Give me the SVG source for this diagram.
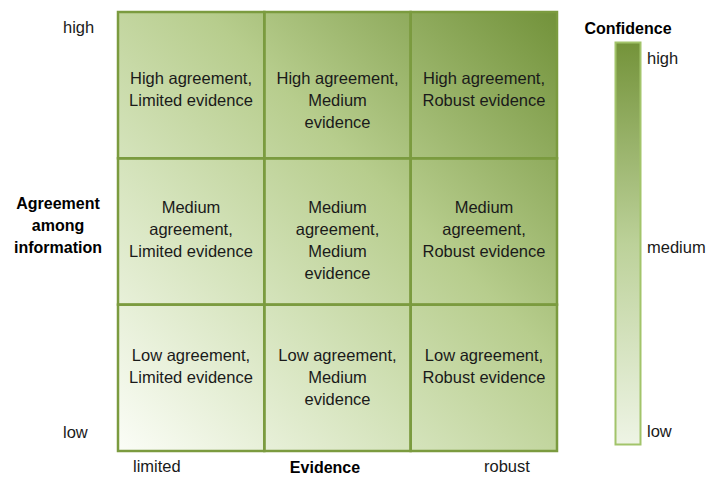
<svg xmlns="http://www.w3.org/2000/svg" width="709" height="479" viewBox="0 0 709 479">
<defs>
<linearGradient id="grid" gradientUnits="userSpaceOnUse" x1="118" y1="451" x2="557" y2="12">
<stop offset="0" stop-color="#fbfdf7"/>
<stop offset="0.35" stop-color="#d3e2b9"/>
<stop offset="0.6" stop-color="#b7cd8d"/>
<stop offset="1" stop-color="#72923a"/>
</linearGradient>
<linearGradient id="bar" x1="0" y1="0" x2="0" y2="1">
<stop offset="0" stop-color="#74933a"/>
<stop offset="0.5" stop-color="#bcd199"/>
<stop offset="1" stop-color="#eef4e5"/>
</linearGradient>
</defs>
<style>
.cell{fill:none;stroke:#7b9b3f;stroke-width:2.5}
text{font-family:"Liberation Sans",Arial,sans-serif;font-size:16.5px;fill:#1a1a1a}
.c{text-anchor:middle}
.b{font-weight:bold;font-size:16px;fill:#000}
</style>
<rect x="118" y="12" width="439" height="439" fill="url(#grid)"/>
<g id="cell-high-limited"><rect class="cell" x="118" y="12" width="146.3" height="146.3"/>
<text class="c" x="191" y="84">High agreement,</text><text class="c" x="191" y="106">Limited evidence</text></g>
<g id="cell-high-medium"><rect class="cell" x="264.3" y="12" width="146.3" height="146.3"/>
<text class="c" x="337.5" y="84">High agreement,</text><text class="c" x="337.5" y="106">Medium</text><text class="c" x="337.5" y="128">evidence</text></g>
<g id="cell-high-robust"><rect class="cell" x="410.7" y="12" width="146.3" height="146.3"/>
<text class="c" x="484" y="84">High agreement,</text><text class="c" x="484" y="106">Robust evidence</text></g>
<g id="cell-medium-limited"><rect class="cell" x="118" y="158.3" width="146.3" height="146.3"/>
<text class="c" x="191" y="213">Medium</text><text class="c" x="191" y="235">agreement,</text><text class="c" x="191" y="257">Limited evidence</text></g>
<g id="cell-medium-medium"><rect class="cell" x="264.3" y="158.3" width="146.3" height="146.3"/>
<text class="c" x="337.5" y="213">Medium</text><text class="c" x="337.5" y="235">agreement,</text><text class="c" x="337.5" y="257">Medium</text><text class="c" x="337.5" y="279">evidence</text></g>
<g id="cell-medium-robust"><rect class="cell" x="410.7" y="158.3" width="146.3" height="146.3"/>
<text class="c" x="484" y="213">Medium</text><text class="c" x="484" y="235">agreement,</text><text class="c" x="484" y="257">Robust evidence</text></g>
<g id="cell-low-limited"><rect class="cell" x="118" y="304.7" width="146.3" height="146.3"/>
<text class="c" x="191" y="361">Low agreement,</text><text class="c" x="191" y="383">Limited evidence</text></g>
<g id="cell-low-medium"><rect class="cell" x="264.3" y="304.7" width="146.3" height="146.3"/>
<text class="c" x="337.5" y="361">Low agreement,</text><text class="c" x="337.5" y="383">Medium</text><text class="c" x="337.5" y="405">evidence</text></g>
<g id="cell-low-robust"><rect class="cell" x="410.7" y="304.7" width="146.3" height="146.3"/>
<text class="c" x="484" y="361">Low agreement,</text><text class="c" x="484" y="383">Robust evidence</text></g>
<g id="y-axis">
<text x="63" y="33">high</text>
<text x="63" y="438">low</text>
<text class="c b" x="58" y="209">Agreement</text>
<text class="c b" x="58" y="231">among</text>
<text class="c b" x="58" y="253">information</text>
</g>
<g id="x-axis">
<text x="133" y="472">limited</text>
<text class="c b" x="325" y="473">Evidence</text>
<text x="484" y="472">robust</text>
</g>
<g id="confidence">
<text class="c b" x="628" y="34">Confidence</text>
<rect x="615.5" y="42.5" width="25" height="402" fill="url(#bar)" stroke="#a2c46a" stroke-width="2"/>
<text x="647" y="64">high</text>
<text x="647" y="253">medium</text>
<text x="647" y="437">low</text>
</g>
</svg>
